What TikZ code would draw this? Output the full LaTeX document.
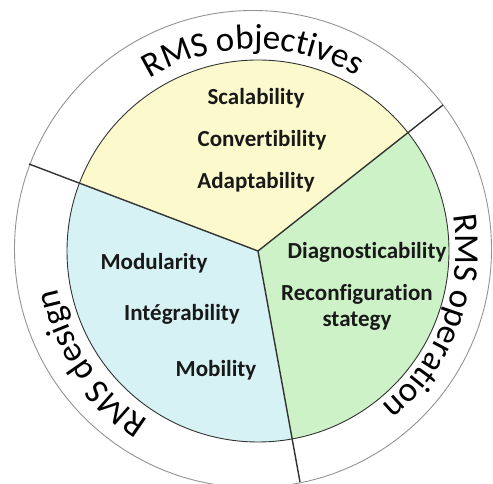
\documentclass[tikz,border=0pt]{standalone}
\usepackage{fontspec}
\setmainfont{Carlito}[Ligatures={NoCommon,NoContextual}]
\usetikzlibrary{calc,decorations.text}
\definecolor{rmsyellow}{HTML}{FCF9CC}
\definecolor{rmsblue}{HTML}{D6F2F4}
\definecolor{rmsgreen}{HTML}{CEF2C8}
\definecolor{rmsline}{HTML}{333333}

\begin{document}
\begin{tikzpicture}[x=1pt, y=1pt,
    sector/.style={draw=rmsline, line width=0.9pt},
    divider/.style={draw=rmsline, line width=1.4pt},
    ring/.style={draw=gray!85, line width=0.9pt},
    item/.style={font=\fontsize{23}{26}\selectfont\bfseries, text=black!90, align=center, inner sep=0pt},
    ringlabel/.style={decorate, decoration={text along path, text align=center, text={|\fontsize{35}{40}\selectfont|#1}}}
  ]
  \useasboundingbox (0,0) rectangle (493,484);
  \coordinate (hub) at (258,233);
  \coordinate (ringc) at (253,235);
  \coordinate (textc) at (255,234);
  \coordinate (cutobj) at (443,379);
  \coordinate (cutdes) at (29,320);
  \coordinate (cutops) at (300,2);

  % the three sectors
  \fill[rmsyellow] (hub) -- ($(hub)+(38.4:191)$) arc[start angle=38.4, end angle=159, radius=191] -- cycle;
  \fill[rmsblue] (hub) -- ($(hub)+(159:191)$) arc[start angle=159, end angle=280.4, radius=191] -- cycle;
  \fill[rmsgreen] (hub) -- ($(hub)+(280.4:191)$) arc[start angle=280.4, end angle=398.4, radius=191] -- cycle;
  \draw[sector] (hub) circle[radius=191];
  \draw[ring] (ringc) circle[radius=238.5];
  \draw[divider] (hub) -- (cutobj);
  \draw[divider] (hub) -- (cutdes);
  \draw[divider] (hub) -- (cutops);

  % ring labels
  \path[ringlabel={RMS objectives}] ($(textc)+(150.6:201)$) arc[start angle=150.6, end angle=30.6, radius=201];
  \path[ringlabel={RMS operation}] ($(textc)+(39.5:201)$) arc[start angle=39.5, end angle=-80.5, radius=201];
  \path[ringlabel={RMS design}] ($(textc)+(274.6:201)$) arc[start angle=274.6, end angle=154.6, radius=201];

  % items
  \node[item] (scal) at (256,386) {Scalability};
  \node[item] (conv) at (262,344) {Convertibility};
  \node[item] (adap) at (256,302) {Adaptability};
  \node[item] (modu) at (154,221) {Modularity};
  \node[item] (inte) at (182,170) {Intégrability};
  \node[item] (mobi) at (216,114) {Mobility};
  \node[item] (diag) at (367,232) {Diagnosticability};
  \node[item] (reco) at (357,177) {Reconfiguration\\stategy};
\end{tikzpicture}
\end{document}
